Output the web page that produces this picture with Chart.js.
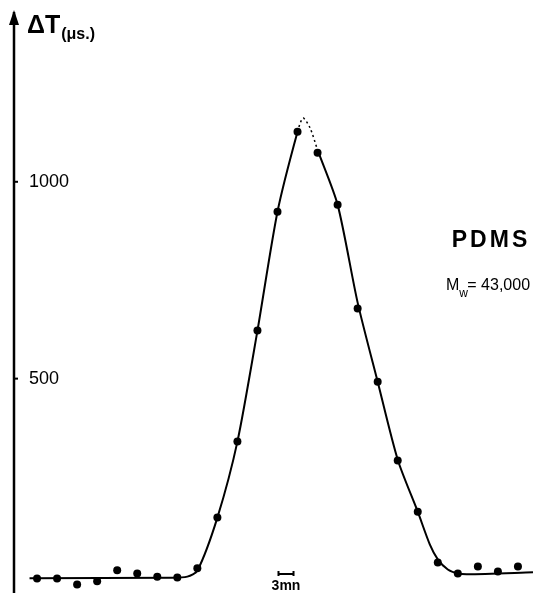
<!DOCTYPE html>
<html lang="en">
<head>
<meta charset="UTF-8">
<title>PDMS dT</title>
<script src="https://cdn.jsdelivr.net/npm/chart.js@4.4.0/dist/chart.umd.min.js"></script>
<style>
    body { margin: 0; background: #fff; }
</style>
</head>
<body>

<canvas id="chart" width="549" height="597"></canvas>

<script>

    // measured points: time in minutes (one reading every 4 mn), dT in microseconds
    const timeMin = [0, 4, 8, 12, 16, 20, 24, 28, 32, 36, 40, 44, 48, 52, 56, 60, 64, 68, 72, 76, 80, 84, 88, 92, 96];
    const deltaT = [-8, -8, -23, -15, 13, 5, -3, -5, 18, 147, 340, 622, 924, 1127, 1074, 942, 678, 492, 292, 162, 33, 5, 23, 10, 23];

    // hand drawn curve through the points
    const curveTime = [-1.5, 27, 30, 32, 36, 40, 44, 48, 52, 53.1, 54.5, 56, 60, 64, 68, 72, 76, 78.4, 80, 82, 84, 86, 99];
    const curveDT = [-7, -6, -3, 12, 147, 340, 622, 924, 1127, 1162, 1137, 1081, 942, 693, 492, 294, 162, 79, 41, 15, 5, 3, 8];

    const yTicks = [500, 1000];

    const font = "'Liberation Sans', Arial, sans-serif";

    const decorations = {
        id: 'decorations',
        afterDraw(chart) {
            const ctx = chart.ctx;
            const ya = chart.scales.y;
            const xa = chart.scales.x;
            const ax = ya.right;
            ctx.save();
            ctx.fillStyle = '#000';
            ctx.strokeStyle = '#000';

            // arrow on the y axis, and the axis running a bit below the plot
            ctx.beginPath();
            ctx.moveTo(ax, 10);
            ctx.lineTo(ax - 5, 25);
            ctx.lineTo(ax + 5, 25);
            ctx.closePath();
            ctx.fill();
            ctx.lineWidth = 2.5;
            ctx.beginPath();
            ctx.moveTo(ax, 12);
            ctx.lineTo(ax, 593);
            ctx.stroke();

            // little tick marks, pointing right
            ctx.lineWidth = 2;
            yTicks.forEach(v => {
                const py = ya.getPixelForValue(v);
                ctx.beginPath();
                ctx.moveTo(ax, py);
                ctx.lineTo(ax + 4, py);
                ctx.stroke();
            });

            // axis title
            ctx.textBaseline = 'alphabetic';
            ctx.textAlign = 'left';
            ctx.font = 'bold 25px ' + font;
            ctx.fillText('ΔT', 27, 33);
            const w = ctx.measureText('ΔT').width;
            ctx.font = 'bold 16px ' + font;
            ctx.fillText('(μs.)', 27 + w + 1, 39);

            // sample label
            ctx.textAlign = 'center';
            ctx.letterSpacing = '3px';
            ctx.font = 'bold 23px ' + font;
            ctx.fillText('PDMS', 491, 247);
            ctx.letterSpacing = '0px';

            ctx.textAlign = 'left';
            ctx.font = '16px ' + font;
            ctx.fillText('M', 446, 290);
            const mw = ctx.measureText('M').width;
            ctx.font = '12px ' + font;
            ctx.fillText('w', 446 + mw, 297);
            ctx.font = '16px ' + font;
            ctx.fillText('= 43,000', 446 + mw + 8, 290);

            // 3 mn scale bar
            const x0 = xa.getPixelForValue(48.2);
            const x1 = xa.getPixelForValue(51.2);
            const by = 574;
            ctx.lineWidth = 2;
            ctx.beginPath();
            ctx.moveTo(x0, by); ctx.lineTo(x1, by);
            ctx.moveTo(x0, by - 3); ctx.lineTo(x0, by + 2);
            ctx.moveTo(x1, by - 3); ctx.lineTo(x1, by + 2);
            ctx.stroke();
            ctx.textAlign = 'center';
            ctx.font = 'bold 14px ' + font;
            ctx.fillText('3mn', (x0 + x1) / 2, 590);

            ctx.restore();
        }
    };

    const ctx = document.getElementById('chart').getContext('2d');
    const myChart = new Chart(ctx, {
        type: 'line',
        data: {
            datasets: [{
                label: 'curve',
                data: curveTime.map((t, i) => ({x: t, y: curveDT[i]})),
                borderColor: '#000',
                borderWidth: 2,
                pointRadius: 0,
                tension: 0.25,
                fill: false,
                segment: {
                    borderDash: c => (c.p0.parsed.x >= 52 && c.p1.parsed.x <= 56) ? [2, 3] : undefined,
                    borderWidth: c => (c.p0.parsed.x >= 52 && c.p1.parsed.x <= 56) ? 1.5 : undefined
                }
            }, {
                label: 'points',
                data: timeMin.map((t, i) => ({x: t, y: deltaT[i]})),
                showLine: false,
                pointRadius: 4,
                pointBackgroundColor: '#000',
                pointBorderColor: '#000',
                pointBorderWidth: 0
            }]
        },
        options: {
            responsive: false,
            animation: false,
            clip: false,
            layout: {autoPadding: false, padding: {left: 14, right: 0, top: 20, bottom: 5}},
            plugins: {
                legend: {display: false},
                tooltip: {enabled: false}
            },
            scales: {
                x: {
                    type: 'linear',
                    min: -4.6,
                    max: 102.2,
                    display: false
                },
                y: {
                    min: -41,
                    max: 1411,
                    afterBuildTicks: axis => { axis.ticks = yTicks.map(v => ({value: v})); },
                    grid: {display: false, drawTicks: false},
                    border: {display: false},
                    ticks: {
                        mirror: true,
                        padding: 0,
                        color: '#000',
                        font: {family: font, size: 18, lineHeight: 0.6},
                        callback: v => '   ' + v
                    }
                }
            }
        },
        plugins: [decorations]
    });

</script>

</body>
</html>
